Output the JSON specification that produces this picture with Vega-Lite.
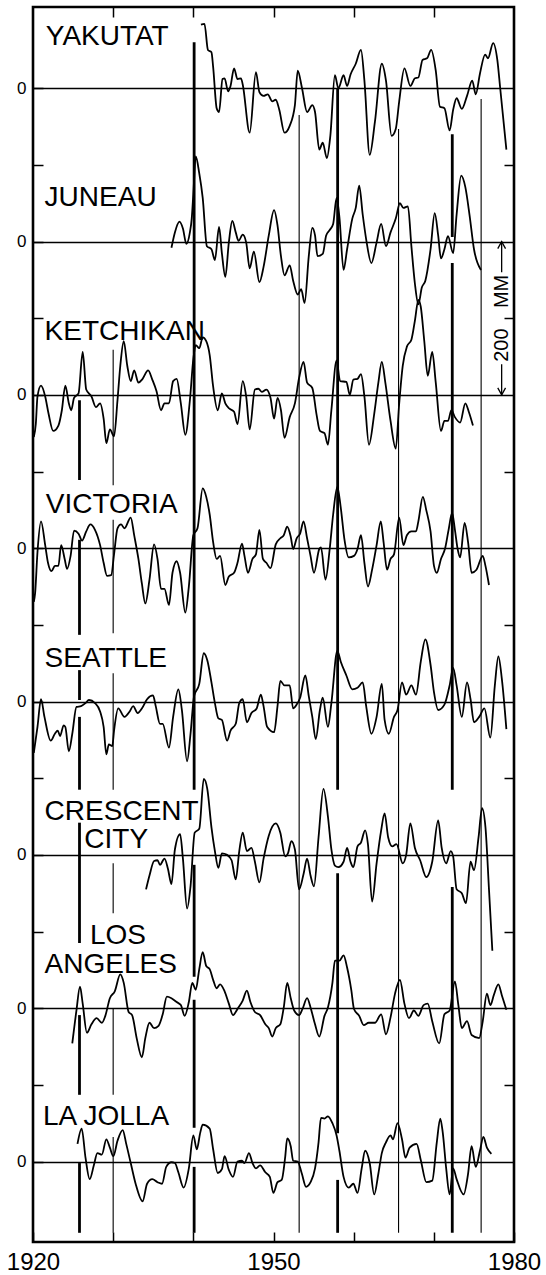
{
"$schema": "https://vega.github.io/schema/vega-lite/v6.json",
"width": 481, "height": 1235,
"autosize": {"type": "none"},
"padding": {"left": 33, "top": 7, "right": 32, "bottom": 33},
"background": "white",
"config": {"view": {"stroke": "black", "strokeWidth": 2.6}, "font": "Liberation Sans"},
"datasets": {
"series": [
{"st":"YAK","yr":1940.95,"mm":83},{"st":"YAK","yr":1941.39,"mm":84},{"st":"YAK","yr":1941.82,"mm":50},{"st":"YAK","yr":1942.26,"mm":47},{"st":"YAK","yr":1942.47,"mm":28},{"st":"YAK","yr":1942.91,"mm":-26},{"st":"YAK","yr":1943.21,"mm":-31},{"st":"YAK","yr":1943.64,"mm":12},{"st":"YAK","yr":1943.9,"mm":13},{"st":"YAK","yr":1944.34,"mm":-4},{"st":"YAK","yr":1944.64,"mm":3},{"st":"YAK","yr":1945.08,"mm":26},{"st":"YAK","yr":1945.51,"mm":12},{"st":"YAK","yr":1945.94,"mm":13},{"st":"YAK","yr":1946.16,"mm":5},{"st":"YAK","yr":1947.03,"mm":-58},{"st":"YAK","yr":1947.81,"mm":21},{"st":"YAK","yr":1948.24,"mm":-5},{"st":"YAK","yr":1948.76,"mm":-10},{"st":"YAK","yr":1949.28,"mm":-8},{"st":"YAK","yr":1949.85,"mm":-17},{"st":"YAK","yr":1950.28,"mm":-15},{"st":"YAK","yr":1950.72,"mm":-28},{"st":"YAK","yr":1951.37,"mm":-58},{"st":"YAK","yr":1952.02,"mm":-49},{"st":"YAK","yr":1952.67,"mm":-22},{"st":"YAK","yr":1953.02,"mm":23},{"st":"YAK","yr":1953.54,"mm":1},{"st":"YAK","yr":1954.19,"mm":-31},{"st":"YAK","yr":1954.84,"mm":-22},{"st":"YAK","yr":1955.18,"mm":-31},{"st":"YAK","yr":1955.71,"mm":-80},{"st":"YAK","yr":1956.14,"mm":-71},{"st":"YAK","yr":1956.66,"mm":-91},{"st":"YAK","yr":1957.09,"mm":-62},{"st":"YAK","yr":1957.66,"mm":17},{"st":"YAK","yr":1958.09,"mm":0},{"st":"YAK","yr":1958.74,"mm":17},{"st":"YAK","yr":1959.18,"mm":3},{"st":"YAK","yr":1959.61,"mm":18},{"st":"YAK","yr":1960.26,"mm":32},{"st":"YAK","yr":1960.91,"mm":50},{"st":"YAK","yr":1961.34,"mm":10},{"st":"YAK","yr":1962.0,"mm":-87},{"st":"YAK","yr":1962.65,"mm":-44},{"st":"YAK","yr":1963.51,"mm":32},{"st":"YAK","yr":1964.03,"mm":10},{"st":"YAK","yr":1964.73,"mm":-62},{"st":"YAK","yr":1965.25,"mm":-53},{"st":"YAK","yr":1965.68,"mm":-17},{"st":"YAK","yr":1966.33,"mm":26},{"st":"YAK","yr":1967.07,"mm":3},{"st":"YAK","yr":1967.64,"mm":13},{"st":"YAK","yr":1968.07,"mm":14},{"st":"YAK","yr":1968.59,"mm":37},{"st":"YAK","yr":1969.15,"mm":39},{"st":"YAK","yr":1969.67,"mm":50},{"st":"YAK","yr":1970.24,"mm":23},{"st":"YAK","yr":1970.76,"mm":-24},{"st":"YAK","yr":1971.32,"mm":-26},{"st":"YAK","yr":1971.97,"mm":-55},{"st":"YAK","yr":1972.41,"mm":-28},{"st":"YAK","yr":1972.84,"mm":-13},{"st":"YAK","yr":1973.49,"mm":-27},{"st":"YAK","yr":1974.14,"mm":-10},{"st":"YAK","yr":1974.79,"mm":10},{"st":"YAK","yr":1975.23,"mm":-8},{"st":"YAK","yr":1975.75,"mm":19},{"st":"YAK","yr":1976.4,"mm":44},{"st":"YAK","yr":1976.75,"mm":39},{"st":"YAK","yr":1977.4,"mm":59},{"st":"YAK","yr":1977.92,"mm":37},{"st":"YAK","yr":1978.27,"mm":1},{"st":"YAK","yr":1979.05,"mm":-80},
{"st":"JUN","yr":1937.27,"mm":-8},{"st":"JUN","yr":1937.7,"mm":12},{"st":"JUN","yr":1938.27,"mm":26},{"st":"JUN","yr":1938.7,"mm":17},{"st":"JUN","yr":1939.13,"mm":-3},{"st":"JUN","yr":1939.57,"mm":12},{"st":"JUN","yr":1939.8,"mm":30},{"st":"JUN","yr":1940.0,"mm":62},{"st":"JUN","yr":1940.3,"mm":111},{"st":"JUN","yr":1940.74,"mm":89},{"st":"JUN","yr":1941.17,"mm":57},{"st":"JUN","yr":1941.69,"mm":-6},{"st":"JUN","yr":1942.26,"mm":-10},{"st":"JUN","yr":1942.69,"mm":-24},{"st":"JUN","yr":1943.21,"mm":19},{"st":"JUN","yr":1943.56,"mm":-15},{"st":"JUN","yr":1943.99,"mm":-46},{"st":"JUN","yr":1944.43,"mm":-1},{"st":"JUN","yr":1944.86,"mm":27},{"st":"JUN","yr":1945.29,"mm":12},{"st":"JUN","yr":1945.64,"mm":1},{"st":"JUN","yr":1946.16,"mm":9},{"st":"JUN","yr":1946.59,"mm":-1},{"st":"JUN","yr":1947.03,"mm":-35},{"st":"JUN","yr":1947.55,"mm":-13},{"st":"JUN","yr":1948.24,"mm":-53},{"st":"JUN","yr":1948.76,"mm":-33},{"st":"JUN","yr":1949.41,"mm":8},{"st":"JUN","yr":1950.07,"mm":41},{"st":"JUN","yr":1950.5,"mm":21},{"st":"JUN","yr":1950.93,"mm":-19},{"st":"JUN","yr":1951.37,"mm":-44},{"st":"JUN","yr":1952.02,"mm":-31},{"st":"JUN","yr":1952.45,"mm":-51},{"st":"JUN","yr":1953.02,"mm":-69},{"st":"JUN","yr":1953.45,"mm":-62},{"st":"JUN","yr":1953.88,"mm":-80},{"st":"JUN","yr":1954.4,"mm":-19},{"st":"JUN","yr":1954.84,"mm":18},{"st":"JUN","yr":1955.18,"mm":8},{"st":"JUN","yr":1955.49,"mm":-19},{"st":"JUN","yr":1956.14,"mm":-16},{"st":"JUN","yr":1956.57,"mm":8},{"st":"JUN","yr":1957.01,"mm":15},{"st":"JUN","yr":1957.44,"mm":23},{"st":"JUN","yr":1957.87,"mm":57},{"st":"JUN","yr":1958.22,"mm":32},{"st":"JUN","yr":1958.74,"mm":-37},{"st":"JUN","yr":1959.18,"mm":-10},{"st":"JUN","yr":1959.83,"mm":30},{"st":"JUN","yr":1960.26,"mm":44},{"st":"JUN","yr":1960.69,"mm":73},{"st":"JUN","yr":1961.13,"mm":35},{"st":"JUN","yr":1961.56,"mm":3},{"st":"JUN","yr":1962.21,"mm":-28},{"st":"JUN","yr":1962.86,"mm":-1},{"st":"JUN","yr":1963.43,"mm":23},{"st":"JUN","yr":1964.03,"mm":-6},{"st":"JUN","yr":1964.6,"mm":12},{"st":"JUN","yr":1965.25,"mm":30},{"st":"JUN","yr":1965.77,"mm":50},{"st":"JUN","yr":1966.2,"mm":44},{"st":"JUN","yr":1966.77,"mm":46},{"st":"JUN","yr":1967.2,"mm":-6},{"st":"JUN","yr":1967.64,"mm":-55},{"st":"JUN","yr":1968.07,"mm":-82},{"st":"JUN","yr":1968.5,"mm":-60},{"st":"JUN","yr":1968.94,"mm":-51},{"st":"JUN","yr":1969.59,"mm":-10},{"st":"JUN","yr":1970.11,"mm":37},{"st":"JUN","yr":1970.54,"mm":8},{"st":"JUN","yr":1970.89,"mm":-22},{"st":"JUN","yr":1971.32,"mm":-10},{"st":"JUN","yr":1971.76,"mm":7},{"st":"JUN","yr":1972.41,"mm":-15},{"st":"JUN","yr":1972.84,"mm":35},{"st":"JUN","yr":1973.41,"mm":86},{"st":"JUN","yr":1973.93,"mm":71},{"st":"JUN","yr":1974.45,"mm":35},{"st":"JUN","yr":1975.01,"mm":-10},{"st":"JUN","yr":1975.88,"mm":-37},
{"st":"KET","yr":1920.1,"mm":-55},{"st":"KET","yr":1920.35,"mm":-38},{"st":"KET","yr":1920.56,"mm":-2},{"st":"KET","yr":1921.0,"mm":12},{"st":"KET","yr":1921.52,"mm":-2},{"st":"KET","yr":1921.95,"mm":-25},{"st":"KET","yr":1922.52,"mm":-47},{"st":"KET","yr":1923.17,"mm":-40},{"st":"KET","yr":1923.6,"mm":-20},{"st":"KET","yr":1924.03,"mm":12},{"st":"KET","yr":1924.47,"mm":-11},{"st":"KET","yr":1924.77,"mm":-20},{"st":"KET","yr":1925.12,"mm":-4},{"st":"KET","yr":1925.68,"mm":2},{"st":"KET","yr":1926.2,"mm":56},{"st":"KET","yr":1926.64,"mm":7},{"st":"KET","yr":1927.29,"mm":-2},{"st":"KET","yr":1927.85,"mm":-16},{"st":"KET","yr":1928.37,"mm":-11},{"st":"KET","yr":1928.81,"mm":-31},{"st":"KET","yr":1929.15,"mm":-63},{"st":"KET","yr":1929.59,"mm":-45},{"st":"KET","yr":1930.11,"mm":-54},{"st":"KET","yr":1930.54,"mm":-7},{"st":"KET","yr":1930.89,"mm":38},{"st":"KET","yr":1931.32,"mm":70},{"st":"KET","yr":1931.76,"mm":38},{"st":"KET","yr":1932.19,"mm":18},{"st":"KET","yr":1932.62,"mm":32},{"st":"KET","yr":1933.15,"mm":16},{"st":"KET","yr":1933.67,"mm":21},{"st":"KET","yr":1934.36,"mm":32},{"st":"KET","yr":1934.88,"mm":20},{"st":"KET","yr":1935.4,"mm":5},{"st":"KET","yr":1935.97,"mm":-20},{"st":"KET","yr":1936.4,"mm":-11},{"st":"KET","yr":1936.96,"mm":-11},{"st":"KET","yr":1937.48,"mm":18},{"st":"KET","yr":1937.92,"mm":21},{"st":"KET","yr":1938.44,"mm":-11},{"st":"KET","yr":1939.0,"mm":-52},{"st":"KET","yr":1939.57,"mm":-7},{"st":"KET","yr":1940.0,"mm":47},{"st":"KET","yr":1940.3,"mm":65},{"st":"KET","yr":1940.74,"mm":61},{"st":"KET","yr":1941.17,"mm":75},{"st":"KET","yr":1941.61,"mm":70},{"st":"KET","yr":1942.04,"mm":52},{"st":"KET","yr":1942.47,"mm":11},{"st":"KET","yr":1943.04,"mm":-20},{"st":"KET","yr":1943.56,"mm":2},{"st":"KET","yr":1943.99,"mm":-11},{"st":"KET","yr":1944.51,"mm":-18},{"st":"KET","yr":1945.08,"mm":-22},{"st":"KET","yr":1945.51,"mm":-38},{"st":"KET","yr":1946.16,"mm":18},{"st":"KET","yr":1946.59,"mm":-2},{"st":"KET","yr":1947.03,"mm":-45},{"st":"KET","yr":1947.68,"mm":7},{"st":"KET","yr":1948.11,"mm":8},{"st":"KET","yr":1948.55,"mm":4},{"st":"KET","yr":1949.11,"mm":7},{"st":"KET","yr":1949.63,"mm":-4},{"st":"KET","yr":1950.07,"mm":-31},{"st":"KET","yr":1950.5,"mm":-4},{"st":"KET","yr":1950.93,"mm":-20},{"st":"KET","yr":1951.37,"mm":-56},{"st":"KET","yr":1952.02,"mm":-29},{"st":"KET","yr":1952.67,"mm":-11},{"st":"KET","yr":1953.19,"mm":22},{"st":"KET","yr":1953.75,"mm":43},{"st":"KET","yr":1954.19,"mm":16},{"st":"KET","yr":1954.84,"mm":9},{"st":"KET","yr":1955.36,"mm":-25},{"st":"KET","yr":1955.79,"mm":-47},{"st":"KET","yr":1956.36,"mm":-50},{"st":"KET","yr":1956.79,"mm":-65},{"st":"KET","yr":1957.22,"mm":-20},{"st":"KET","yr":1957.87,"mm":45},{"st":"KET","yr":1958.31,"mm":18},{"st":"KET","yr":1959.09,"mm":17},{"st":"KET","yr":1959.52,"mm":0},{"st":"KET","yr":1959.96,"mm":20},{"st":"KET","yr":1960.48,"mm":21},{"st":"KET","yr":1960.91,"mm":27},{"st":"KET","yr":1961.34,"mm":-2},{"st":"KET","yr":1961.91,"mm":-65},{"st":"KET","yr":1962.56,"mm":-25},{"st":"KET","yr":1963.08,"mm":16},{"st":"KET","yr":1963.51,"mm":43},{"st":"KET","yr":1963.95,"mm":16},{"st":"KET","yr":1964.6,"mm":-34},{"st":"KET","yr":1965.25,"mm":-70},{"st":"KET","yr":1965.68,"mm":-11},{"st":"KET","yr":1966.12,"mm":38},{"st":"KET","yr":1966.64,"mm":63},{"st":"KET","yr":1967.2,"mm":72},{"st":"KET","yr":1967.64,"mm":97},{"st":"KET","yr":1968.07,"mm":124},{"st":"KET","yr":1968.37,"mm":115},{"st":"KET","yr":1968.81,"mm":70},{"st":"KET","yr":1969.24,"mm":25},{"st":"KET","yr":1969.8,"mm":56},{"st":"KET","yr":1970.24,"mm":16},{"st":"KET","yr":1970.89,"mm":-47},{"st":"KET","yr":1971.32,"mm":-34},{"st":"KET","yr":1971.76,"mm":-34},{"st":"KET","yr":1972.19,"mm":-20},{"st":"KET","yr":1972.63,"mm":-29},{"st":"KET","yr":1973.28,"mm":-36},{"st":"KET","yr":1973.93,"mm":-11},{"st":"KET","yr":1974.36,"mm":-22},{"st":"KET","yr":1974.88,"mm":-40},
{"st":"VIC","yr":1920.1,"mm":-70},{"st":"VIC","yr":1920.26,"mm":-59},{"st":"VIC","yr":1920.56,"mm":-5},{"st":"VIC","yr":1921.0,"mm":35},{"st":"VIC","yr":1921.52,"mm":4},{"st":"VIC","yr":1921.87,"mm":-19},{"st":"VIC","yr":1922.3,"mm":-30},{"st":"VIC","yr":1922.73,"mm":-23},{"st":"VIC","yr":1923.17,"mm":-23},{"st":"VIC","yr":1923.51,"mm":4},{"st":"VIC","yr":1923.95,"mm":-14},{"st":"VIC","yr":1924.25,"mm":-27},{"st":"VIC","yr":1924.69,"mm":-10},{"st":"VIC","yr":1925.12,"mm":23},{"st":"VIC","yr":1925.68,"mm":19},{"st":"VIC","yr":1926.12,"mm":10},{"st":"VIC","yr":1926.64,"mm":22},{"st":"VIC","yr":1927.16,"mm":31},{"st":"VIC","yr":1927.73,"mm":24},{"st":"VIC","yr":1928.37,"mm":4},{"st":"VIC","yr":1928.81,"mm":-19},{"st":"VIC","yr":1929.24,"mm":-36},{"st":"VIC","yr":1929.76,"mm":-35},{"st":"VIC","yr":1930.11,"mm":-8},{"st":"VIC","yr":1930.54,"mm":26},{"st":"VIC","yr":1930.98,"mm":31},{"st":"VIC","yr":1931.41,"mm":26},{"st":"VIC","yr":1932.19,"mm":40},{"st":"VIC","yr":1932.62,"mm":17},{"st":"VIC","yr":1933.15,"mm":-14},{"st":"VIC","yr":1933.58,"mm":-46},{"st":"VIC","yr":1934.01,"mm":-72},{"st":"VIC","yr":1934.53,"mm":-41},{"st":"VIC","yr":1935.1,"mm":5},{"st":"VIC","yr":1935.53,"mm":-14},{"st":"VIC","yr":1935.97,"mm":-53},{"st":"VIC","yr":1936.4,"mm":-53},{"st":"VIC","yr":1936.96,"mm":-74},{"st":"VIC","yr":1937.4,"mm":-32},{"st":"VIC","yr":1937.92,"mm":-17},{"st":"VIC","yr":1938.35,"mm":-32},{"st":"VIC","yr":1939.0,"mm":-84},{"st":"VIC","yr":1939.44,"mm":-50},{"st":"VIC","yr":1940.0,"mm":17},{"st":"VIC","yr":1940.52,"mm":26},{"st":"VIC","yr":1941.17,"mm":78},{"st":"VIC","yr":1941.61,"mm":67},{"st":"VIC","yr":1942.04,"mm":44},{"st":"VIC","yr":1942.47,"mm":8},{"st":"VIC","yr":1942.91,"mm":-14},{"st":"VIC","yr":1943.34,"mm":-10},{"st":"VIC","yr":1943.99,"mm":-48},{"st":"VIC","yr":1944.43,"mm":-37},{"st":"VIC","yr":1945.08,"mm":-32},{"st":"VIC","yr":1945.51,"mm":-19},{"st":"VIC","yr":1946.07,"mm":6},{"st":"VIC","yr":1946.38,"mm":-10},{"st":"VIC","yr":1946.81,"mm":-32},{"st":"VIC","yr":1947.38,"mm":-14},{"st":"VIC","yr":1947.81,"mm":-8},{"st":"VIC","yr":1948.24,"mm":24},{"st":"VIC","yr":1948.68,"mm":-14},{"st":"VIC","yr":1949.11,"mm":-19},{"st":"VIC","yr":1949.63,"mm":-26},{"st":"VIC","yr":1950.28,"mm":5},{"st":"VIC","yr":1950.85,"mm":13},{"st":"VIC","yr":1951.28,"mm":17},{"st":"VIC","yr":1951.71,"mm":28},{"st":"VIC","yr":1952.15,"mm":15},{"st":"VIC","yr":1952.45,"mm":-1},{"st":"VIC","yr":1952.89,"mm":13},{"st":"VIC","yr":1953.32,"mm":19},{"st":"VIC","yr":1953.75,"mm":35},{"st":"VIC","yr":1954.19,"mm":13},{"st":"VIC","yr":1954.62,"mm":-10},{"st":"VIC","yr":1955.05,"mm":-32},{"st":"VIC","yr":1955.71,"mm":-1},{"st":"VIC","yr":1955.92,"mm":1},{"st":"VIC","yr":1956.49,"mm":-41},{"st":"VIC","yr":1957.01,"mm":-1},{"st":"VIC","yr":1957.44,"mm":44},{"st":"VIC","yr":1957.96,"mm":80},{"st":"VIC","yr":1958.39,"mm":53},{"st":"VIC","yr":1958.83,"mm":13},{"st":"VIC","yr":1959.39,"mm":-12},{"st":"VIC","yr":1960.04,"mm":-10},{"st":"VIC","yr":1960.48,"mm":-1},{"st":"VIC","yr":1960.91,"mm":17},{"st":"VIC","yr":1961.34,"mm":-19},{"st":"VIC","yr":1961.78,"mm":-50},{"st":"VIC","yr":1962.3,"mm":-28},{"st":"VIC","yr":1962.86,"mm":4},{"st":"VIC","yr":1963.38,"mm":35},{"st":"VIC","yr":1963.73,"mm":8},{"st":"VIC","yr":1964.16,"mm":-28},{"st":"VIC","yr":1964.6,"mm":-14},{"st":"VIC","yr":1965.03,"mm":-8},{"st":"VIC","yr":1965.68,"mm":40},{"st":"VIC","yr":1966.2,"mm":4},{"st":"VIC","yr":1966.64,"mm":17},{"st":"VIC","yr":1967.2,"mm":22},{"st":"VIC","yr":1967.77,"mm":22},{"st":"VIC","yr":1968.07,"mm":35},{"st":"VIC","yr":1968.63,"mm":67},{"st":"VIC","yr":1969.07,"mm":49},{"st":"VIC","yr":1969.59,"mm":22},{"st":"VIC","yr":1970.02,"mm":-23},{"st":"VIC","yr":1970.37,"mm":-32},{"st":"VIC","yr":1970.89,"mm":-14},{"st":"VIC","yr":1971.41,"mm":0},{"st":"VIC","yr":1971.84,"mm":24},{"st":"VIC","yr":1972.28,"mm":46},{"st":"VIC","yr":1972.63,"mm":24},{"st":"VIC","yr":1972.97,"mm":-1},{"st":"VIC","yr":1973.28,"mm":-12},{"st":"VIC","yr":1973.84,"mm":33},{"st":"VIC","yr":1974.27,"mm":8},{"st":"VIC","yr":1974.71,"mm":-32},{"st":"VIC","yr":1975.32,"mm":-28},{"st":"VIC","yr":1976.1,"mm":-10},{"st":"VIC","yr":1976.44,"mm":-23},{"st":"VIC","yr":1976.88,"mm":-48},
{"st":"SEA","yr":1920.1,"mm":-67},{"st":"SEA","yr":1920.56,"mm":-33},{"st":"SEA","yr":1921.0,"mm":3},{"st":"SEA","yr":1921.43,"mm":-20},{"st":"SEA","yr":1922.21,"mm":-51},{"st":"SEA","yr":1922.73,"mm":-42},{"st":"SEA","yr":1923.08,"mm":-38},{"st":"SEA","yr":1923.38,"mm":-45},{"st":"SEA","yr":1923.82,"mm":-31},{"st":"SEA","yr":1924.03,"mm":-33},{"st":"SEA","yr":1924.47,"mm":-65},{"st":"SEA","yr":1924.9,"mm":-42},{"st":"SEA","yr":1925.42,"mm":-7},{"st":"SEA","yr":1925.99,"mm":-6},{"st":"SEA","yr":1926.55,"mm":-2},{"st":"SEA","yr":1926.98,"mm":2},{"st":"SEA","yr":1927.73,"mm":-2},{"st":"SEA","yr":1928.37,"mm":-13},{"st":"SEA","yr":1928.81,"mm":-33},{"st":"SEA","yr":1929.15,"mm":-69},{"st":"SEA","yr":1929.46,"mm":-56},{"st":"SEA","yr":1929.89,"mm":-58},{"st":"SEA","yr":1930.11,"mm":-38},{"st":"SEA","yr":1930.63,"mm":-9},{"st":"SEA","yr":1931.41,"mm":-20},{"st":"SEA","yr":1932.06,"mm":-13},{"st":"SEA","yr":1932.49,"mm":-6},{"st":"SEA","yr":1933.06,"mm":-15},{"st":"SEA","yr":1933.58,"mm":-9},{"st":"SEA","yr":1934.23,"mm":3},{"st":"SEA","yr":1934.97,"mm":8},{"st":"SEA","yr":1935.31,"mm":-6},{"st":"SEA","yr":1935.84,"mm":-29},{"st":"SEA","yr":1936.18,"mm":-29},{"st":"SEA","yr":1936.96,"mm":-60},{"st":"SEA","yr":1937.48,"mm":-20},{"st":"SEA","yr":1938.13,"mm":16},{"st":"SEA","yr":1938.57,"mm":-11},{"st":"SEA","yr":1939.22,"mm":-78},{"st":"SEA","yr":1939.65,"mm":-42},{"st":"SEA","yr":1940.09,"mm":7},{"st":"SEA","yr":1940.74,"mm":23},{"st":"SEA","yr":1941.3,"mm":63},{"st":"SEA","yr":1941.74,"mm":54},{"st":"SEA","yr":1942.26,"mm":25},{"st":"SEA","yr":1942.69,"mm":-2},{"st":"SEA","yr":1943.12,"mm":-22},{"st":"SEA","yr":1943.56,"mm":-24},{"st":"SEA","yr":1944.21,"mm":-51},{"st":"SEA","yr":1944.64,"mm":-38},{"st":"SEA","yr":1945.29,"mm":-29},{"st":"SEA","yr":1945.73,"mm":-2},{"st":"SEA","yr":1946.16,"mm":3},{"st":"SEA","yr":1946.68,"mm":-27},{"st":"SEA","yr":1947.25,"mm":-15},{"st":"SEA","yr":1947.9,"mm":-9},{"st":"SEA","yr":1948.42,"mm":9},{"st":"SEA","yr":1948.76,"mm":-6},{"st":"SEA","yr":1949.2,"mm":-33},{"st":"SEA","yr":1950.07,"mm":-40},{"st":"SEA","yr":1950.5,"mm":-6},{"st":"SEA","yr":1950.85,"mm":27},{"st":"SEA","yr":1951.37,"mm":21},{"st":"SEA","yr":1952.02,"mm":21},{"st":"SEA","yr":1952.45,"mm":-9},{"st":"SEA","yr":1952.89,"mm":-4},{"st":"SEA","yr":1953.32,"mm":5},{"st":"SEA","yr":1953.97,"mm":34},{"st":"SEA","yr":1954.4,"mm":7},{"st":"SEA","yr":1954.84,"mm":-20},{"st":"SEA","yr":1955.27,"mm":-49},{"st":"SEA","yr":1955.79,"mm":-11},{"st":"SEA","yr":1956.14,"mm":5},{"st":"SEA","yr":1956.79,"mm":-33},{"st":"SEA","yr":1957.22,"mm":-2},{"st":"SEA","yr":1957.96,"mm":66},{"st":"SEA","yr":1958.39,"mm":52},{"st":"SEA","yr":1959.09,"mm":34},{"st":"SEA","yr":1959.83,"mm":16},{"st":"SEA","yr":1960.48,"mm":18},{"st":"SEA","yr":1961.13,"mm":25},{"st":"SEA","yr":1961.56,"mm":-6},{"st":"SEA","yr":1962.21,"mm":-42},{"st":"SEA","yr":1962.86,"mm":-20},{"st":"SEA","yr":1963.51,"mm":23},{"st":"SEA","yr":1963.86,"mm":-24},{"st":"SEA","yr":1964.38,"mm":-42},{"st":"SEA","yr":1965.03,"mm":-20},{"st":"SEA","yr":1965.47,"mm":-11},{"st":"SEA","yr":1966.03,"mm":25},{"st":"SEA","yr":1966.55,"mm":9},{"st":"SEA","yr":1967.2,"mm":21},{"st":"SEA","yr":1967.77,"mm":9},{"st":"SEA","yr":1968.37,"mm":52},{"st":"SEA","yr":1968.94,"mm":81},{"st":"SEA","yr":1969.59,"mm":48},{"st":"SEA","yr":1970.02,"mm":12},{"st":"SEA","yr":1970.54,"mm":-11},{"st":"SEA","yr":1971.32,"mm":-4},{"st":"SEA","yr":1971.97,"mm":21},{"st":"SEA","yr":1972.41,"mm":44},{"st":"SEA","yr":1972.84,"mm":21},{"st":"SEA","yr":1973.49,"mm":-20},{"st":"SEA","yr":1974.14,"mm":25},{"st":"SEA","yr":1974.58,"mm":3},{"st":"SEA","yr":1975.01,"mm":-27},{"st":"SEA","yr":1975.66,"mm":-20},{"st":"SEA","yr":1976.31,"mm":-9},{"st":"SEA","yr":1977.05,"mm":-47},{"st":"SEA","yr":1977.61,"mm":21},{"st":"SEA","yr":1978.05,"mm":59},{"st":"SEA","yr":1978.48,"mm":30},{"st":"SEA","yr":1979.05,"mm":-36},
{"st":"CRE","yr":1934.1,"mm":-45},{"st":"CRE","yr":1934.53,"mm":-27},{"st":"CRE","yr":1935.1,"mm":-8},{"st":"CRE","yr":1935.53,"mm":-7},{"st":"CRE","yr":1935.84,"mm":-13},{"st":"CRE","yr":1936.4,"mm":-5},{"st":"CRE","yr":1936.83,"mm":-18},{"st":"CRE","yr":1937.27,"mm":-38},{"st":"CRE","yr":1937.7,"mm":7},{"st":"CRE","yr":1938.35,"mm":27},{"st":"CRE","yr":1938.7,"mm":-5},{"st":"CRE","yr":1939.22,"mm":-70},{"st":"CRE","yr":1939.65,"mm":-41},{"st":"CRE","yr":1940.17,"mm":29},{"st":"CRE","yr":1940.74,"mm":34},{"st":"CRE","yr":1941.3,"mm":99},{"st":"CRE","yr":1941.74,"mm":86},{"st":"CRE","yr":1942.26,"mm":36},{"st":"CRE","yr":1942.69,"mm":5},{"st":"CRE","yr":1943.12,"mm":-17},{"st":"CRE","yr":1943.56,"mm":2},{"st":"CRE","yr":1944.21,"mm":0},{"st":"CRE","yr":1944.77,"mm":-7},{"st":"CRE","yr":1945.29,"mm":-32},{"st":"CRE","yr":1945.73,"mm":5},{"st":"CRE","yr":1946.16,"mm":29},{"st":"CRE","yr":1946.68,"mm":5},{"st":"CRE","yr":1947.25,"mm":9},{"st":"CRE","yr":1947.68,"mm":-9},{"st":"CRE","yr":1948.24,"mm":-36},{"st":"CRE","yr":1948.76,"mm":-5},{"st":"CRE","yr":1949.41,"mm":25},{"st":"CRE","yr":1950.28,"mm":41},{"st":"CRE","yr":1950.85,"mm":29},{"st":"CRE","yr":1951.45,"mm":-2},{"st":"CRE","yr":1951.8,"mm":2},{"st":"CRE","yr":1952.23,"mm":18},{"st":"CRE","yr":1952.67,"mm":7},{"st":"CRE","yr":1953.19,"mm":-45},{"st":"CRE","yr":1953.75,"mm":-25},{"st":"CRE","yr":1954.19,"mm":-5},{"st":"CRE","yr":1954.62,"mm":-27},{"st":"CRE","yr":1955.05,"mm":-41},{"st":"CRE","yr":1955.62,"mm":23},{"st":"CRE","yr":1956.23,"mm":86},{"st":"CRE","yr":1956.79,"mm":50},{"st":"CRE","yr":1957.22,"mm":7},{"st":"CRE","yr":1957.66,"mm":-14},{"st":"CRE","yr":1958.09,"mm":-16},{"st":"CRE","yr":1958.74,"mm":-9},{"st":"CRE","yr":1959.18,"mm":9},{"st":"CRE","yr":1959.61,"mm":-9},{"st":"CRE","yr":1959.96,"mm":-16},{"st":"CRE","yr":1960.48,"mm":11},{"st":"CRE","yr":1960.91,"mm":16},{"st":"CRE","yr":1961.43,"mm":32},{"st":"CRE","yr":1961.78,"mm":14},{"st":"CRE","yr":1962.3,"mm":-61},{"st":"CRE","yr":1962.86,"mm":-11},{"st":"CRE","yr":1963.43,"mm":32},{"st":"CRE","yr":1963.86,"mm":54},{"st":"CRE","yr":1964.3,"mm":23},{"st":"CRE","yr":1964.82,"mm":11},{"st":"CRE","yr":1965.34,"mm":14},{"st":"CRE","yr":1966.12,"mm":-11},{"st":"CRE","yr":1966.55,"mm":0},{"st":"CRE","yr":1967.07,"mm":41},{"st":"CRE","yr":1967.64,"mm":9},{"st":"CRE","yr":1968.29,"mm":-7},{"st":"CRE","yr":1969.07,"mm":-29},{"st":"CRE","yr":1969.8,"mm":-9},{"st":"CRE","yr":1970.54,"mm":45},{"st":"CRE","yr":1970.98,"mm":9},{"st":"CRE","yr":1971.54,"mm":-11},{"st":"CRE","yr":1972.11,"mm":5},{"st":"CRE","yr":1972.41,"mm":-2},{"st":"CRE","yr":1972.84,"mm":-45},{"st":"CRE","yr":1973.49,"mm":-50},{"st":"CRE","yr":1974.01,"mm":-63},{"st":"CRE","yr":1974.58,"mm":-9},{"st":"CRE","yr":1975.01,"mm":-20},{"st":"CRE","yr":1975.58,"mm":23},{"st":"CRE","yr":1976.01,"mm":61},{"st":"CRE","yr":1976.44,"mm":36},{"st":"CRE","yr":1976.88,"mm":-45},{"st":"CRE","yr":1977.3,"mm":-125},
{"st":"LAN","yr":1924.9,"mm":-46},{"st":"LAN","yr":1925.42,"mm":-3},{"st":"LAN","yr":1925.86,"mm":28},{"st":"LAN","yr":1926.2,"mm":6},{"st":"LAN","yr":1926.72,"mm":-32},{"st":"LAN","yr":1927.29,"mm":-21},{"st":"LAN","yr":1927.94,"mm":-13},{"st":"LAN","yr":1928.59,"mm":-19},{"st":"LAN","yr":1929.02,"mm":-10},{"st":"LAN","yr":1929.59,"mm":13},{"st":"LAN","yr":1930.2,"mm":22},{"st":"LAN","yr":1930.89,"mm":44},{"st":"LAN","yr":1931.32,"mm":33},{"st":"LAN","yr":1931.93,"mm":-5},{"st":"LAN","yr":1932.36,"mm":-9},{"st":"LAN","yr":1932.93,"mm":-39},{"st":"LAN","yr":1933.58,"mm":-64},{"st":"LAN","yr":1934.01,"mm":-39},{"st":"LAN","yr":1934.53,"mm":-19},{"st":"LAN","yr":1935.1,"mm":-26},{"st":"LAN","yr":1935.66,"mm":-23},{"st":"LAN","yr":1936.18,"mm":-8},{"st":"LAN","yr":1936.7,"mm":15},{"st":"LAN","yr":1937.27,"mm":13},{"st":"LAN","yr":1937.92,"mm":8},{"st":"LAN","yr":1938.44,"mm":4},{"st":"LAN","yr":1938.92,"mm":-10},{"st":"LAN","yr":1939.44,"mm":8},{"st":"LAN","yr":1939.87,"mm":33},{"st":"LAN","yr":1940.3,"mm":24},{"st":"LAN","yr":1940.74,"mm":51},{"st":"LAN","yr":1941.17,"mm":73},{"st":"LAN","yr":1941.61,"mm":55},{"st":"LAN","yr":1942.04,"mm":51},{"st":"LAN","yr":1942.47,"mm":37},{"st":"LAN","yr":1942.91,"mm":26},{"st":"LAN","yr":1943.34,"mm":31},{"st":"LAN","yr":1943.9,"mm":22},{"st":"LAN","yr":1944.43,"mm":6},{"st":"LAN","yr":1944.95,"mm":-9},{"st":"LAN","yr":1945.51,"mm":-1},{"st":"LAN","yr":1946.16,"mm":10},{"st":"LAN","yr":1946.68,"mm":23},{"st":"LAN","yr":1947.12,"mm":8},{"st":"LAN","yr":1947.68,"mm":-5},{"st":"LAN","yr":1948.33,"mm":-9},{"st":"LAN","yr":1948.98,"mm":-21},{"st":"LAN","yr":1949.41,"mm":-26},{"st":"LAN","yr":1949.85,"mm":-37},{"st":"LAN","yr":1950.28,"mm":-26},{"st":"LAN","yr":1950.85,"mm":-21},{"st":"LAN","yr":1951.28,"mm":1},{"st":"LAN","yr":1951.71,"mm":33},{"st":"LAN","yr":1952.15,"mm":13},{"st":"LAN","yr":1952.58,"mm":-3},{"st":"LAN","yr":1953.19,"mm":-9},{"st":"LAN","yr":1953.62,"mm":-1},{"st":"LAN","yr":1954.19,"mm":13},{"st":"LAN","yr":1954.62,"mm":1},{"st":"LAN","yr":1955.18,"mm":-21},{"st":"LAN","yr":1955.71,"mm":-37},{"st":"LAN","yr":1956.36,"mm":-10},{"st":"LAN","yr":1956.79,"mm":1},{"st":"LAN","yr":1957.35,"mm":33},{"st":"LAN","yr":1957.66,"mm":62},{"st":"LAN","yr":1958.22,"mm":62},{"st":"LAN","yr":1958.74,"mm":69},{"st":"LAN","yr":1959.18,"mm":53},{"st":"LAN","yr":1959.7,"mm":24},{"st":"LAN","yr":1960.04,"mm":-1},{"st":"LAN","yr":1960.69,"mm":-10},{"st":"LAN","yr":1961.26,"mm":-22},{"st":"LAN","yr":1961.87,"mm":-19},{"st":"LAN","yr":1962.65,"mm":-19},{"st":"LAN","yr":1963.43,"mm":-8},{"st":"LAN","yr":1964.03,"mm":-34},{"st":"LAN","yr":1964.6,"mm":-12},{"st":"LAN","yr":1965.16,"mm":19},{"st":"LAN","yr":1965.77,"mm":37},{"st":"LAN","yr":1966.33,"mm":6},{"st":"LAN","yr":1966.9,"mm":-13},{"st":"LAN","yr":1967.51,"mm":-3},{"st":"LAN","yr":1968.07,"mm":-10},{"st":"LAN","yr":1968.72,"mm":4},{"st":"LAN","yr":1969.24,"mm":6},{"st":"LAN","yr":1969.8,"mm":-17},{"st":"LAN","yr":1970.67,"mm":-46},{"st":"LAN","yr":1971.32,"mm":-8},{"st":"LAN","yr":1971.97,"mm":-3},{"st":"LAN","yr":1972.63,"mm":35},{"st":"LAN","yr":1973.06,"mm":4},{"st":"LAN","yr":1973.49,"mm":-26},{"st":"LAN","yr":1974.14,"mm":-17},{"st":"LAN","yr":1974.71,"mm":-35},{"st":"LAN","yr":1975.66,"mm":-39},{"st":"LAN","yr":1976.1,"mm":-17},{"st":"LAN","yr":1976.62,"mm":19},{"st":"LAN","yr":1977.05,"mm":4},{"st":"LAN","yr":1977.48,"mm":17},{"st":"LAN","yr":1978.05,"mm":31},{"st":"LAN","yr":1978.48,"mm":17},{"st":"LAN","yr":1979.05,"mm":-2},
{"st":"LAJ","yr":1925.55,"mm":23},{"st":"LAJ","yr":1926.07,"mm":43},{"st":"LAJ","yr":1926.55,"mm":5},{"st":"LAJ","yr":1927.07,"mm":-23},{"st":"LAJ","yr":1927.59,"mm":-5},{"st":"LAJ","yr":1928.03,"mm":11},{"st":"LAJ","yr":1928.59,"mm":9},{"st":"LAJ","yr":1929.15,"mm":29},{"st":"LAJ","yr":1929.59,"mm":18},{"st":"LAJ","yr":1930.02,"mm":7},{"st":"LAJ","yr":1930.54,"mm":27},{"st":"LAJ","yr":1931.19,"mm":41},{"st":"LAJ","yr":1931.63,"mm":23},{"st":"LAJ","yr":1932.19,"mm":-2},{"st":"LAJ","yr":1932.8,"mm":-29},{"st":"LAJ","yr":1933.67,"mm":-52},{"st":"LAJ","yr":1934.23,"mm":-29},{"st":"LAJ","yr":1934.88,"mm":-23},{"st":"LAJ","yr":1935.53,"mm":-27},{"st":"LAJ","yr":1936.1,"mm":-29},{"st":"LAJ","yr":1936.62,"mm":-7},{"st":"LAJ","yr":1937.27,"mm":-1},{"st":"LAJ","yr":1937.7,"mm":-2},{"st":"LAJ","yr":1938.13,"mm":-14},{"st":"LAJ","yr":1938.79,"mm":-34},{"st":"LAJ","yr":1939.44,"mm":-9},{"st":"LAJ","yr":1940.0,"mm":34},{"st":"LAJ","yr":1940.43,"mm":16},{"st":"LAJ","yr":1940.87,"mm":38},{"st":"LAJ","yr":1941.17,"mm":48},{"st":"LAJ","yr":1942.04,"mm":43},{"st":"LAJ","yr":1942.47,"mm":16},{"st":"LAJ","yr":1943.04,"mm":-15},{"st":"LAJ","yr":1943.56,"mm":-10},{"st":"LAJ","yr":1943.9,"mm":7},{"st":"LAJ","yr":1944.43,"mm":-11},{"st":"LAJ","yr":1944.95,"mm":-20},{"st":"LAJ","yr":1945.51,"mm":0},{"st":"LAJ","yr":1946.07,"mm":1},{"st":"LAJ","yr":1946.38,"mm":-2},{"st":"LAJ","yr":1946.94,"mm":11},{"st":"LAJ","yr":1947.38,"mm":-2},{"st":"LAJ","yr":1947.81,"mm":-9},{"st":"LAJ","yr":1948.33,"mm":-5},{"st":"LAJ","yr":1948.98,"mm":-14},{"st":"LAJ","yr":1949.54,"mm":-20},{"st":"LAJ","yr":1949.98,"mm":-41},{"st":"LAJ","yr":1950.5,"mm":-27},{"st":"LAJ","yr":1951.02,"mm":-24},{"st":"LAJ","yr":1951.45,"mm":5},{"st":"LAJ","yr":1951.71,"mm":30},{"st":"LAJ","yr":1952.15,"mm":20},{"st":"LAJ","yr":1952.45,"mm":1},{"st":"LAJ","yr":1953.02,"mm":0},{"st":"LAJ","yr":1953.54,"mm":-16},{"st":"LAJ","yr":1954.06,"mm":-33},{"st":"LAJ","yr":1954.62,"mm":-27},{"st":"LAJ","yr":1955.18,"mm":-9},{"st":"LAJ","yr":1955.62,"mm":25},{"st":"LAJ","yr":1955.92,"mm":57},{"st":"LAJ","yr":1956.36,"mm":56},{"st":"LAJ","yr":1956.79,"mm":59},{"st":"LAJ","yr":1957.35,"mm":50},{"st":"LAJ","yr":1957.87,"mm":34},{"st":"LAJ","yr":1958.22,"mm":14},{"st":"LAJ","yr":1958.74,"mm":-20},{"st":"LAJ","yr":1959.39,"mm":-34},{"st":"LAJ","yr":1959.96,"mm":-29},{"st":"LAJ","yr":1960.48,"mm":-41},{"st":"LAJ","yr":1961.0,"mm":-9},{"st":"LAJ","yr":1961.43,"mm":14},{"st":"LAJ","yr":1962.0,"mm":-2},{"st":"LAJ","yr":1962.56,"mm":-43},{"st":"LAJ","yr":1963.08,"mm":-16},{"st":"LAJ","yr":1963.51,"mm":11},{"st":"LAJ","yr":1964.03,"mm":25},{"st":"LAJ","yr":1964.6,"mm":34},{"st":"LAJ","yr":1964.9,"mm":29},{"st":"LAJ","yr":1965.47,"mm":50},{"st":"LAJ","yr":1966.03,"mm":29},{"st":"LAJ","yr":1966.46,"mm":5},{"st":"LAJ","yr":1966.98,"mm":18},{"st":"LAJ","yr":1967.85,"mm":23},{"st":"LAJ","yr":1968.37,"mm":2},{"st":"LAJ","yr":1969.07,"mm":-27},{"st":"LAJ","yr":1969.8,"mm":-25},{"st":"LAJ","yr":1970.37,"mm":25},{"st":"LAJ","yr":1970.8,"mm":56},{"st":"LAJ","yr":1971.11,"mm":38},{"st":"LAJ","yr":1971.54,"mm":-9},{"st":"LAJ","yr":1971.97,"mm":-43},{"st":"LAJ","yr":1972.41,"mm":-9},{"st":"LAJ","yr":1972.84,"mm":-23},{"st":"LAJ","yr":1973.71,"mm":-43},{"st":"LAJ","yr":1974.27,"mm":-16},{"st":"LAJ","yr":1974.71,"mm":20},{"st":"LAJ","yr":1975.23,"mm":-7},{"st":"LAJ","yr":1975.75,"mm":14},{"st":"LAJ","yr":1976.18,"mm":32},{"st":"LAJ","yr":1976.62,"mm":18},{"st":"LAJ","yr":1977.18,"mm":10}
],
"events": [
{"yr":1925.8,"top":-407,"bot":-511,"kind":"major"},
{"yr":1925.8,"top":-589,"bot":-713,"kind":"major"},
{"yr":1925.8,"top":-759,"bot":-798,"kind":"major"},
{"yr":1925.8,"top":-820,"bot":-915,"kind":"major"},
{"yr":1925.8,"top":-958,"bot":-1115,"kind":"major"},
{"yr":1925.8,"top":-1209,"bot":-1313,"kind":"major"},
{"yr":1925.8,"top":-1402,"bot":-1493,"kind":"major"},
{"yr":1930.0,"top":-341,"bot":-518,"kind":"minor"},
{"yr":1930.0,"top":-563,"bot":-711,"kind":"minor"},
{"yr":1930.0,"top":-763,"bot":-915,"kind":"minor"},
{"yr":1930.0,"top":-1011,"bot":-1076,"kind":"minor"},
{"yr":1930.0,"top":-1200,"bot":-1313,"kind":"minor"},
{"yr":1930.0,"top":-1368,"bot":-1493,"kind":"minor"},
{"yr":1940.1,"top":60,"bot":-915,"kind":"major"},
{"yr":1940.1,"top":-1013,"bot":-1159,"kind":"major"},
{"yr":1940.1,"top":-1189,"bot":-1356,"kind":"major"},
{"yr":1940.1,"top":-1407,"bot":-1493,"kind":"major"},
{"yr":1953.2,"top":-35,"bot":-1493,"kind":"minor"},
{"yr":1958.0,"top":0,"bot":-915,"kind":"major"},
{"yr":1958.0,"top":-1024,"bot":-1363,"kind":"major"},
{"yr":1958.0,"top":-1424,"bot":-1493,"kind":"major"},
{"yr":1965.6,"top":-53,"bot":-1493,"kind":"minor"},
{"yr":1972.3,"top":-60,"bot":-194,"kind":"major"},
{"yr":1972.3,"top":-228,"bot":-915,"kind":"major"},
{"yr":1972.3,"top":-1042,"bot":-1493,"kind":"major"},
{"yr":1975.9,"top":-14,"bot":-1493,"kind":"minor"}
],
"labels": [
{"text":"YAKUTAT","yr":1921.6,"mm":56},
{"text":"JUNEAU","yr":1921.45,"mm":-154},
{"text":"KETCHIKAN","yr":1921.45,"mm":-328},
{"text":"VICTORIA","yr":1921.6,"mm":-554},
{"text":"SEATTLE","yr":1921.45,"mm":-755},
{"text":"CRESCENT","yr":1921.45,"mm":-954},
{"text":"CITY","yr":1926.4,"mm":-991},
{"text":"LOS","yr":1927.1,"mm":-1116},
{"text":"ANGELES","yr":1921.45,"mm":-1154},
{"text":"LA JOLLA","yr":1921.25,"mm":-1353}
]
},
"resolve": {"axis": {"x": "independent", "y": "independent"}},
"layer": [
{
"data": {"name": "events"},
"mark": {"type": "rule", "color": "black"},
"encoding": {
"x": {"field": "yr", "type": "quantitative", "scale": {"domain": [1920, 1980], "nice": false, "zero": false},
"axis": {"orient": "bottom", "values": [1920,1930,1940,1950,1960,1970,1980], "format": "d", "labelExpr": "datum.value % 30 == 0 ? datum.label : ''", "labelFlush": false, "labelOverlap": false, "tickSize": -10, "tickWidth": 1.5, "tickColor": "black", "domain": false, "grid": false, "labelFontSize": 24, "labelColor": "black", "labelPadding": 18, "labelFont": "Liberation Sans", "title": null}},
"y": {"field": "top", "type": "quantitative", "scale": {"domain": [-1505, 106], "nice": false, "zero": false},
"axis": {"orient": "left", "values": [0,-100,-200,-300,-400,-500,-600,-700,-800,-900,-1000,-1100,-1200,-1300,-1400], "labelExpr": "datum.value % 200 == 0 ? '0' : ''", "labelFlush": false, "labelOverlap": false, "tickSize": -10, "tickWidth": 1.5, "tickColor": "black", "domain": false, "grid": true, "gridColor": "black", "gridWidth": 1.6, "gridOpacity": {"condition": {"test": "datum.value % 200 == 0", "value": 1}, "value": 0}, "labelFontSize": 17, "labelColor": "black", "labelPadding": 17, "labelFont": "Liberation Sans", "title": null}},
"y2": {"field": "bot"},
"strokeWidth": {"field": "kind", "type": "nominal", "scale": {"domain": ["major", "minor"], "range": [2.8, 1.1]}, "legend": null}
}
},
{
"data": {"name": "series"},
"transform": [{"calculate": "datum.mm - 200 * indexof(['YAK','JUN','KET','VIC','SEA','CRE','LAN','LAJ'], datum.st)", "as": "y"}],
"mark": {"type": "line", "interpolate": "monotone", "strokeWidth": 1.8, "color": "black"},
"encoding": {
"x": {"field": "yr", "type": "quantitative", "scale": {"domain": [1920, 1980], "nice": false, "zero": false},
"axis": {"orient": "top", "values": [1930,1940,1950,1960,1970], "labels": false, "tickSize": -10, "tickWidth": 1.5, "tickColor": "black", "domain": false, "grid": false, "title": null}},
"y": {"field": "y", "type": "quantitative", "scale": {"domain": [-1505, 106], "nice": false, "zero": false},
"axis": {"orient": "right", "values": [-100,-300,-500,-700,-900,-1100,-1300], "labels": false, "tickSize": -10, "tickWidth": 1.5, "tickColor": "black", "domain": false, "grid": false, "title": null}},
"detail": {"field": "st", "type": "nominal"}
}
},
{
"data": {"name": "labels"},
"mark": {"type": "text", "align": "left", "baseline": "alphabetic", "fontSize": 28, "font": "Liberation Sans", "color": "black"},
"encoding": {
"x": {"field": "yr", "type": "quantitative", "axis": null},
"y": {"field": "mm", "type": "quantitative", "axis": null},
"text": {"field": "text"}
}
},
{
"data": {"values": [{"text": "MM", "yr": 1978.46, "mm": -265}, {"text": "200", "yr": 1978.46, "mm": -335}]},
"mark": {"type": "text", "align": "center", "baseline": "middle", "angle": 270, "fontSize": 20, "font": "Liberation Sans", "color": "black"},
"encoding": {
"x": {"field": "yr", "type": "quantitative", "axis": null},
"y": {"field": "mm", "type": "quantitative", "axis": null},
"text": {"field": "text"}
}
},
{
"data": {"values": [{"yr": 1978.46, "top": -200, "bot": -240}, {"yr": 1978.46, "top": -360, "bot": -400}]},
"mark": {"type": "rule", "color": "black", "strokeWidth": 1.3},
"encoding": {
"x": {"field": "yr", "type": "quantitative", "axis": null},
"y": {"field": "top", "type": "quantitative", "axis": null},
"y2": {"field": "bot"}
}
},
{
"data": {"values": [{"yr": 1978.46, "mm": -200, "dir": "up"}, {"yr": 1978.46, "mm": -400, "dir": "down"}]},
"mark": {"type": "point", "filled": false, "color": "black", "strokeWidth": 1.3, "size": 200, "opacity": 1},
"encoding": {
"x": {"field": "yr", "type": "quantitative", "axis": null},
"y": {"field": "mm", "type": "quantitative", "axis": null},
"shape": {"field": "dir", "type": "nominal", "scale": {"domain": ["up", "down"], "range": ["M-0.55,1L0,0L0.55,1", "M-0.55,-1L0,0L0.55,-1"]}, "legend": null}
}
}
]
}
